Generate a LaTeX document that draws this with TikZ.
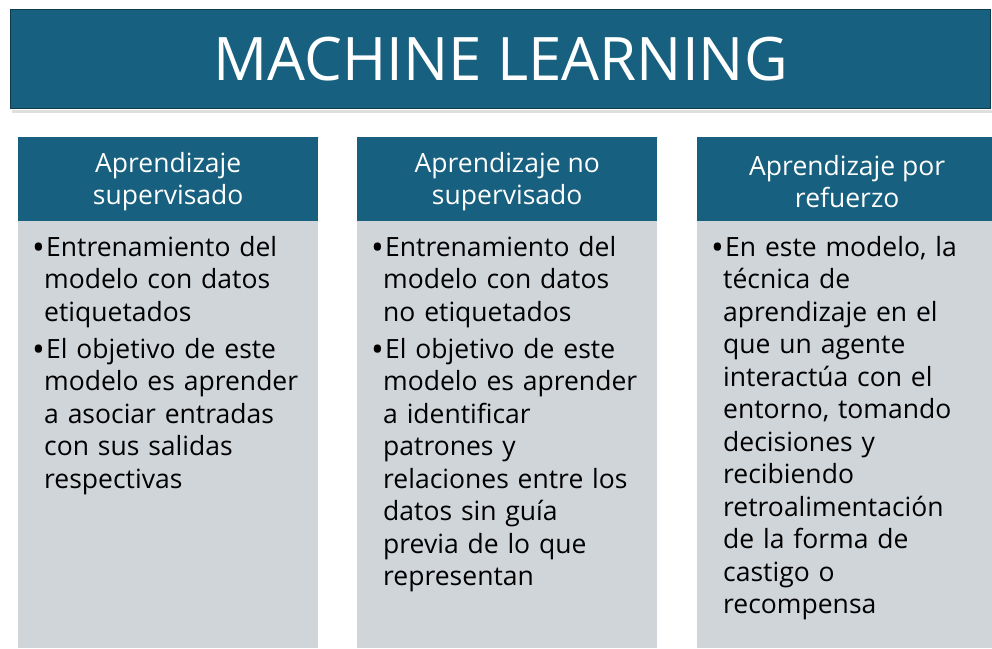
\documentclass[tikz,border=0pt]{standalone}
\usepackage{fontspec}
\setmainfont{Open Sans}
\usetikzlibrary{positioning}
\definecolor{teal}{HTML}{17607F}
\definecolor{bodygray}{HTML}{D0D5DA}
\definecolor{tborder}{HTML}{0E3A4C}
\tikzset{
  titlebox/.style={draw=tborder, line width=1.2pt, fill=teal, minimum width=980pt, minimum height=99pt, anchor=north west, inner sep=0pt, text=white, font=\fontsize{60}{64}\selectfont},
  headbox/.style={fill=teal, minimum width=300pt, minimum height=84pt, anchor=north west, inner sep=0pt, text=white, align=center, font=\fontsize{26.5}{32}\selectfont},
  bodybox/.style={fill=bodygray, minimum width=300pt, minimum height=427pt, anchor=north west, inner sep=0pt},
  bodytext/.style={anchor=north west, inner sep=0pt, text width=300pt, align=left, font=\fontsize{26.5}{32.5}\selectfont\setlength{\parskip}{4.5pt}}
}
\newcommand{\bitem}[1]{\hangindent=12pt\hangafter=1\noindent\makebox[14pt][l]{\raisebox{-3.5pt}{\fontsize{34}{34}\selectfont\textbullet}}#1\par}
\begin{document}
\begin{tikzpicture}[x=1pt,y=-1pt]
\useasboundingbox (0,0) rectangle (992,648);
\fill[gray!25] (12,110) rectangle (992,113);
\node[titlebox] (title) at (10,9) {MACHINE LEARNING};
\node[headbox] (h1) at (18,139) {Aprendizaje\\supervisado};
\node[headbox] (h2) at (357,139) {Aprendizaje no\\supervisado};
\node[headbox] (h3) at (697,139) {Aprendizaje por\\refuerzo};
\fill[teal] (18,137) rectangle (318,139) (357,137) rectangle (657,139) (697,137) rectangle (992,139);
\node[bodybox] (b1) at (18,221) {};
\node[bodybox] (b2) at (357,221) {};
\node[bodybox] (b3) at (697,221) {};
\node[bodytext] (t1) at (32,236) {%
\bitem{Entrenamiento del\newline modelo con datos\newline etiquetados}%
\bitem{El objetivo de este\newline modelo es aprender\newline a asociar entradas\newline con sus salidas\newline respectivas}};
\node[bodytext] (t2) at (371,236) {%
\bitem{Entrenamiento del\newline modelo con datos\newline no etiquetados}%
\bitem{El objetivo de este\newline modelo es aprender\newline a identificar\newline patrones y\newline relaciones entre los\newline datos sin guía\newline previa de lo que\newline representan}};
\node[bodytext] (t3) at (711,236) {%
\bitem{En este modelo, la\newline técnica de\newline aprendizaje en el\newline que un agente\newline interactúa con el\newline entorno, tomando\newline decisiones y\newline recibiendo\newline retroalimentación\newline de la forma de\newline castigo o\newline recompensa}};
\end{tikzpicture}
\end{document}
